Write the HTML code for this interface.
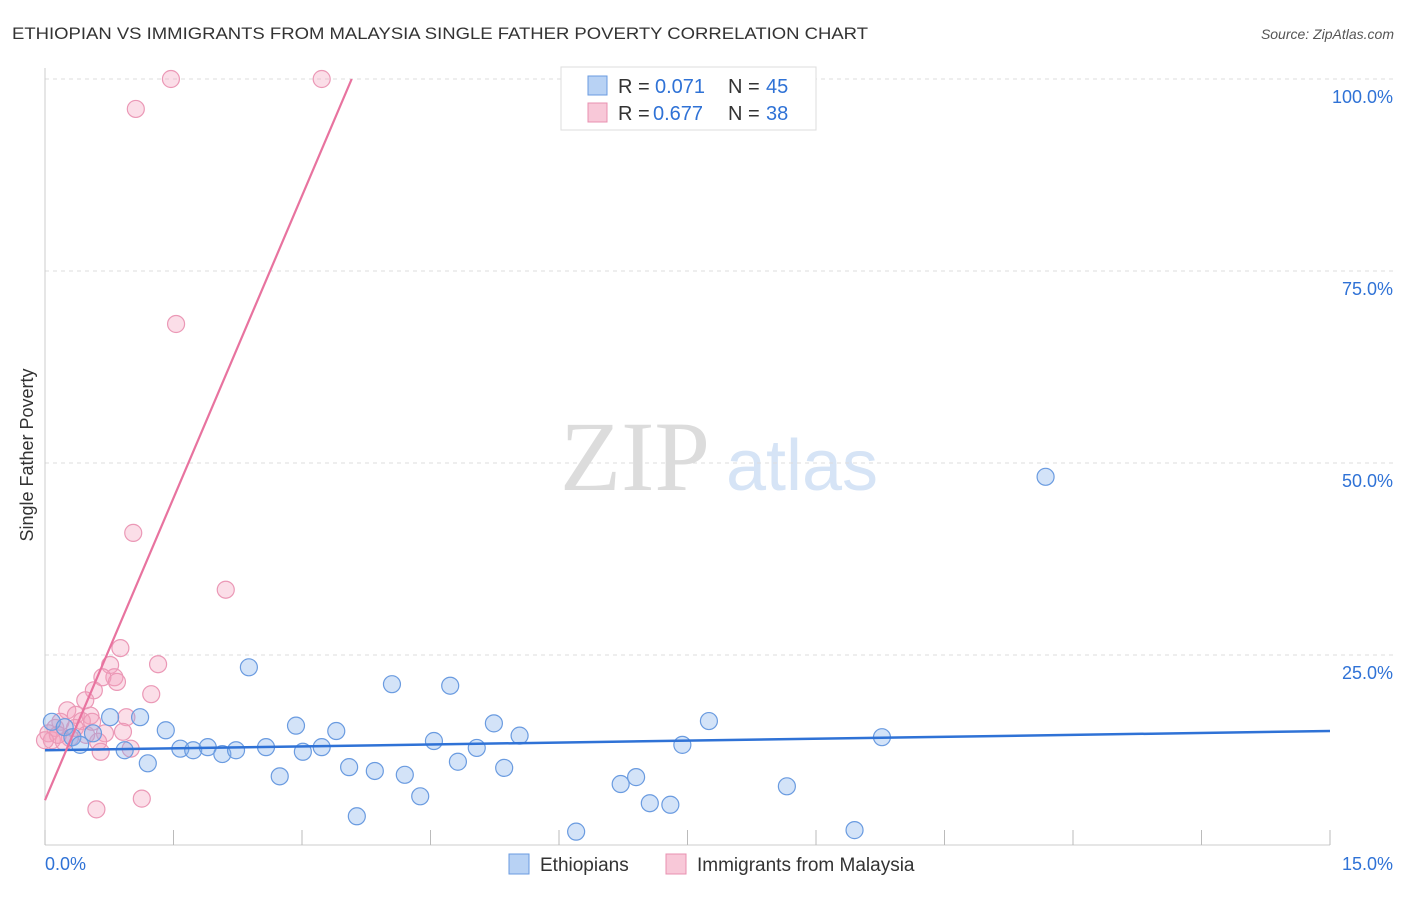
<!DOCTYPE html>
<html><head><meta charset="utf-8"><style>
body{margin:0;background:#fff;font-family:"Liberation Sans",sans-serif}
</style></head><body>
<svg id="chart" width="1406" height="892" font-family="Liberation Sans, sans-serif">
<text x="12" y="39" font-size="17" fill="#333" textLength="856" lengthAdjust="spacingAndGlyphs">ETHIOPIAN VS IMMIGRANTS FROM MALAYSIA SINGLE FATHER POVERTY CORRELATION CHART</text>
<text x="1394" y="39" font-size="14" fill="#555" font-style="italic" text-anchor="end">Source: ZipAtlas.com</text>
<text transform="translate(33,455) rotate(-90)" font-size="18" fill="#333" text-anchor="middle">Single Father Poverty</text>
<g><text x="635" y="490" font-size="100" fill="#dcdcdc" style="font-family:'Liberation Serif',serif" text-anchor="middle">ZIP</text><text x="802" y="490" font-size="72" fill="#d6e4f6" text-anchor="middle">atlas</text></g>
<g id="grid"></g><g id="axes"></g><g id="marks"></g>
<g>
<rect x="561" y="67" width="255" height="63" fill="#fff" stroke="#ddd"/>
<rect x="588" y="76" width="19" height="19" fill="#b8d2f4" stroke="#6a9be0"/>
<text x="618" y="93" font-size="20" fill="#333">R =</text><text x="655" y="93" font-size="20" fill="#2f72d6">0.071</text>
<text x="728" y="93" font-size="20" fill="#333">N =</text><text x="766" y="93" font-size="20" fill="#2f72d6">45</text>
<rect x="588" y="103" width="19" height="19" fill="#f8c8d8" stroke="#e890b0"/>
<text x="618" y="120" font-size="20" fill="#333">R =</text><text x="653" y="120" font-size="20" fill="#2f72d6">0.677</text>
<text x="728" y="120" font-size="20" fill="#333">N =</text><text x="766" y="120" font-size="20" fill="#2f72d6">38</text>
</g>
<g>
<rect x="509" y="854" width="20" height="20" fill="#b8d2f4" stroke="#6a9be0"/>
<text x="540" y="871" font-size="19" fill="#333">Ethiopians</text>
<rect x="666" y="854" width="20" height="20" fill="#f8c8d8" stroke="#e890b0"/>
<text x="697" y="871" font-size="19" fill="#333">Immigrants from Malaysia</text>
</g>
</svg>
<script>
const yTicks=[25,50,75,100];
const yTickLabels=["25.0%","50.0%","75.0%","100.0%"];
const xTickLabels=["0.0%","15.0%"];
const blueX=[0.08,0.23,0.32,0.41,0.56,0.76,0.93,1.11,1.20,1.41,1.58,1.73,1.90,2.07,2.23,2.38,2.58,2.74,2.93,3.01,3.23,3.40,3.55,3.64,3.85,4.05,4.20,4.38,4.54,4.73,4.82,5.04,5.24,5.36,5.54,6.20,6.72,6.90,7.06,7.30,7.44,7.75,8.66,9.45,9.77,11.68];
const blueY=[16.3,15.6,14.3,13.3,14.8,16.9,12.6,16.9,10.9,15.2,12.8,12.6,13.0,12.1,12.6,23.4,13.0,9.2,15.8,12.4,13.0,15.1,10.4,4.0,9.9,21.2,9.4,6.6,13.8,21.0,11.1,12.9,16.1,10.3,14.5,2.0,8.2,9.1,5.7,5.5,13.3,16.4,7.9,2.2,14.3,48.2];
const pinkX=[1.47,3.23,1.06,1.53,1.03,2.11,0.88,1.32,0.76,0.81,0.67,0.84,1.24,0.57,0.47,0.26,0.36,0.53,0.95,0.43,0.18,0.12,0.04,0.08,0.29,0.70,0.91,0.62,0.65,1.00,0.22,0.60,1.13,0.15,0.35,0.48,0.0,0.55];
const pinkY=[100,100,96.1,68.1,40.9,33.5,25.9,23.8,23.7,22.1,22.1,21.5,19.9,20.4,19.1,17.8,17.2,17.1,16.9,16.4,16.3,15.5,14.8,13.9,14.2,14.8,15.0,13.7,12.4,12.8,13.7,4.9,6.3,14.6,15.5,14.6,13.9,16.3];
const blueLine=[[0,12.6],[15,15.1]];
const pinkLine=[[0,6.1],[3.58,100]];
const X=v=>45+v*(1285/15), Y=v=>847-v*7.68;
const NS="http://www.w3.org/2000/svg";
function mk(t,a,p){const e=document.createElementNS(NS,t);for(const k in a)e.setAttribute(k,a[k]);p.appendChild(e);return e;}
const grid=document.getElementById('grid'),axes=document.getElementById('axes'),marks=document.getElementById('marks');
yTicks.forEach((t,i)=>{
 const l=mk('line',{x1:45,x2:1395,y1:Y(t),y2:Y(t),stroke:'#ddd','stroke-dasharray':'4,4'},grid);
 
 
 const tx=mk('text',{x:1393,y:Y(t)+24,'font-size':18,fill:'#2f72d6','text-anchor':'end'},axes);
 tx.textContent=yTickLabels[i];
 
 
});
const ax=mk('line',{x1:45,x2:1330,y1:845,y2:845,stroke:'#ccc'},axes);


const ay=mk('line',{x1:45,x2:45,y1:68,y2:845,stroke:'#ccc'},axes);


for(let i=0;i<=10;i++){
 const t=mk('line',{x1:X(i*1.5),x2:X(i*1.5),y1:830,y2:845,stroke:'#bbb'},axes);
 
 
}
[[0,'start',45],[15,'end',1393]].forEach((d,i)=>{
 const tx=mk('text',{x:d[2],y:870,'font-size':18,fill:'#2f72d6','text-anchor':d[1]},axes);
 tx.textContent=xTickLabels[i];
 
 
});
pinkX.forEach((v,i)=>{
 const c=mk('circle',{cx:X(v),cy:Y(pinkY[i]),r:8.5,fill:'rgba(244,160,190,0.35)',stroke:'#eb98b6','stroke-width':1.2},marks);
 
 
});
blueX.forEach((v,i)=>{
 const c=mk('circle',{cx:X(v),cy:Y(blueY[i]),r:8.5,fill:'rgba(130,175,235,0.35)',stroke:'#6a9be0','stroke-width':1.2},marks);
 
 
});
const bl=mk('line',{x1:X(blueLine[0][0]),y1:Y(blueLine[0][1]),x2:X(blueLine[1][0]),y2:Y(blueLine[1][1]),stroke:'#2f72d6','stroke-width':2.5},marks);


const pl=mk('line',{x1:X(pinkLine[0][0]),y1:Y(pinkLine[0][1]),x2:X(pinkLine[1][0]),y2:Y(pinkLine[1][1]),stroke:'#e8739f','stroke-width':2.2},marks);


</script>
</body></html>
